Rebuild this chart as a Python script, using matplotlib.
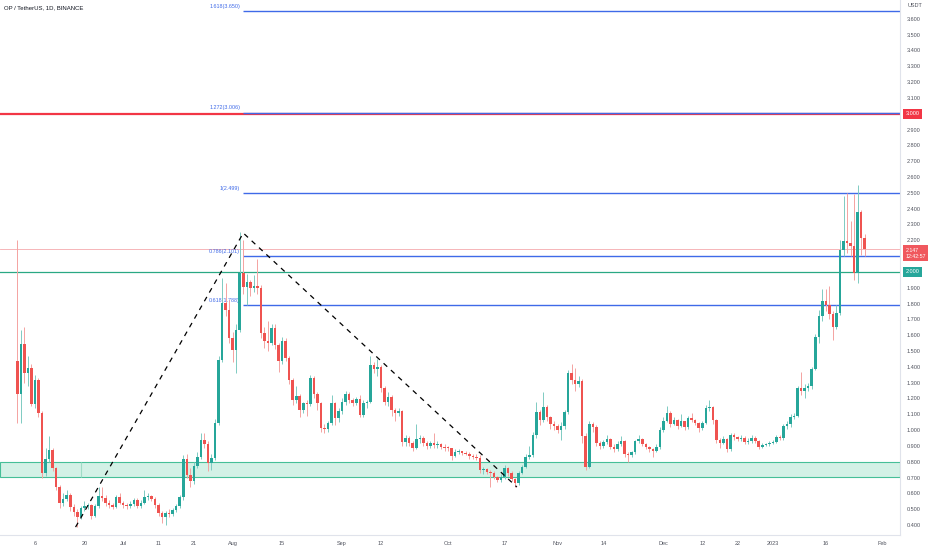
import numpy as np
import matplotlib.pyplot as plt
import matplotlib.dates as mdates
import matplotlib.transforms as mtransforms

plt.rcParams['font.family'] = ['Liberation Sans', 'DejaVu Sans']

# OP / USDT daily candles, 2022-06-01 .. 2023-01-27
dates = np.arange('2022-06-01', '2023-01-28', dtype='datetime64[D]')
first_open = 1.437
closes = [
    1.228, 1.544, 1.361, 1.392, 1.165, 1.317, 1.108, 0.729, 0.817, 0.874,
    0.760, 0.640, 0.539, 0.564, 0.590, 0.514, 0.482, 0.451, 0.507, 0.520,
    0.526, 0.457, 0.520, 0.583, 0.571, 0.539, 0.526, 0.514, 0.577, 0.539,
    0.526, 0.520, 0.533, 0.558, 0.520, 0.539, 0.577, 0.583, 0.564, 0.526,
    0.476, 0.451, 0.476, 0.470, 0.495, 0.520, 0.577, 0.817, 0.716, 0.678,
    0.773, 0.830, 0.937, 0.912, 0.792, 0.823, 1.045, 1.443, 1.803, 1.759,
    1.582, 1.506, 1.633, 1.993, 1.904, 1.936, 1.898, 1.911, 1.898, 1.614,
    1.563, 1.550, 1.645, 1.538, 1.437, 1.563, 1.456, 1.317, 1.190, 1.215,
    1.127, 1.171, 1.165, 1.329, 1.228, 1.171, 1.013, 1.007, 1.045, 1.171,
    1.076, 1.121, 1.177, 1.228, 1.190, 1.171, 1.196, 1.095, 1.171, 1.177,
    1.411, 1.386, 1.399, 1.266, 1.177, 1.209, 1.127, 1.108, 1.121, 0.925,
    0.950, 0.918, 0.887, 0.944, 0.950, 0.918, 0.899, 0.918, 0.906, 0.912,
    0.893, 0.890, 0.887, 0.836, 0.861, 0.868, 0.855, 0.849, 0.836, 0.830,
    0.826, 0.748, 0.752, 0.735, 0.729, 0.703, 0.684, 0.703, 0.760, 0.729,
    0.691, 0.665, 0.729, 0.767, 0.830, 0.842, 0.969, 1.114, 1.064, 1.146,
    1.083, 1.038, 1.026, 1.000, 1.026, 1.114, 1.361, 1.317, 1.291, 1.310,
    0.963, 0.767, 1.038, 1.019, 0.918, 0.899, 0.925, 0.944, 0.893, 0.880,
    0.912, 0.931, 0.849, 0.842, 0.861, 0.931, 0.944, 0.912, 0.893, 0.880,
    0.868, 0.893, 1.000, 1.057, 1.108, 1.038, 1.064, 1.026, 1.057, 1.019,
    1.076, 1.064, 1.045, 1.013, 1.045, 1.140, 1.146, 1.064, 0.937, 0.918,
    0.944, 0.880, 0.969, 0.956, 0.944, 0.950, 0.925, 0.931, 0.950, 0.931,
    0.893, 0.906, 0.912, 0.918, 0.925, 0.956, 0.950, 1.026, 1.038, 1.083,
    1.089, 1.266, 1.247, 1.266, 1.279, 1.386, 1.588, 1.721, 1.816, 1.791,
    1.734, 1.652, 1.740, 2.138, 2.195, 2.183, 2.164, 1.993, 2.379, 2.214,
    2.147,
]
highs = [
    2.20, 1.63, 1.65, 1.47, 1.42, 1.35, 1.33, 1.12, 0.89, 0.96,
    0.89, 0.77, 0.65, 0.60, 0.62, 0.60, 0.53, 0.50, 0.52, 0.55,
    0.54, 0.53, 0.53, 0.64, 0.64, 0.59, 0.56, 0.54, 0.59, 0.60,
    0.55, 0.54, 0.55, 0.57, 0.57, 0.56, 0.62, 0.60, 0.59, 0.58,
    0.54, 0.49, 0.49, 0.50, 0.51, 0.53, 0.59, 0.84, 0.85, 0.76,
    0.80, 0.86, 0.98, 0.98, 0.93, 0.85, 1.07, 1.47, 1.96, 1.93,
    1.82, 1.62, 1.67, 2.25, 2.20, 1.99, 1.95, 1.98, 2.08, 1.92,
    1.65, 1.69, 1.67, 1.67, 1.55, 1.59, 1.58, 1.47, 1.33, 1.28,
    1.23, 1.18, 1.19, 1.35, 1.34, 1.24, 1.18, 1.04, 1.06, 1.22,
    1.18, 1.14, 1.20, 1.25, 1.24, 1.20, 1.21, 1.22, 1.19, 1.19,
    1.47, 1.43, 1.45, 1.41, 1.28, 1.24, 1.22, 1.14, 1.14, 1.13,
    0.97, 0.96, 0.93, 1.04, 0.97, 0.96, 0.93, 0.93, 0.98, 0.93,
    0.92, 0.91, 0.90, 0.89, 0.88, 0.88, 0.87, 0.87, 0.86, 0.85,
    0.85, 0.84, 0.77, 0.76, 0.75, 0.74, 0.71, 0.72, 0.78, 0.77,
    0.74, 0.70, 0.74, 0.78, 0.85, 0.90, 0.99, 1.18, 1.13, 1.24,
    1.16, 1.09, 1.06, 1.04, 1.05, 1.13, 1.38, 1.42, 1.39, 1.34,
    1.32, 0.98, 1.06, 1.05, 1.03, 0.93, 0.94, 0.97, 0.95, 0.91,
    0.93, 0.96, 0.94, 0.86, 0.87, 0.94, 0.97, 0.95, 0.92, 0.90,
    0.89, 0.91, 1.02, 1.08, 1.15, 1.12, 1.08, 1.07, 1.10, 1.06,
    1.09, 1.11, 1.07, 1.05, 1.06, 1.16, 1.19, 1.15, 1.07, 0.95,
    0.96, 0.95, 0.98, 0.98, 0.96, 0.97, 0.96, 0.95, 0.97, 0.96,
    0.94, 0.92, 0.92, 0.93, 0.94, 0.97, 0.97, 1.04, 1.06, 1.10,
    1.11, 1.28, 1.37, 1.29, 1.30, 1.40, 1.61, 1.76, 1.89, 1.89,
    1.91, 1.75, 1.79, 2.20, 2.48, 2.50, 2.32, 2.49, 2.55, 2.39,
    2.24,
]
lows = [
    1.045, 1.045, 1.30, 1.28, 1.15, 1.14, 1.08, 0.70, 0.71, 0.80,
    0.74, 0.62, 0.51, 0.52, 0.55, 0.49, 0.46, 0.39, 0.44, 0.49,
    0.50, 0.44, 0.45, 0.51, 0.55, 0.52, 0.51, 0.50, 0.51, 0.53,
    0.51, 0.50, 0.51, 0.52, 0.51, 0.51, 0.53, 0.56, 0.55, 0.51,
    0.46, 0.41, 0.40, 0.45, 0.46, 0.48, 0.51, 0.56, 0.70, 0.64,
    0.66, 0.76, 0.82, 0.89, 0.74, 0.75, 0.81, 1.03, 1.43, 1.72,
    1.55, 1.43, 1.36, 1.62, 1.86, 1.79, 1.85, 1.87, 1.86, 1.58,
    1.52, 1.50, 1.54, 1.51, 1.37, 1.42, 1.44, 1.29, 1.16, 1.17,
    1.08, 1.11, 1.09, 1.15, 1.20, 1.13, 0.99, 0.98, 0.99, 1.03,
    1.03, 1.05, 1.10, 1.16, 1.17, 1.15, 1.16, 1.08, 1.08, 1.14,
    1.17, 1.36, 1.34, 1.24, 1.16, 1.15, 1.09, 1.06, 1.09, 0.90,
    0.90, 0.90, 0.87, 0.88, 0.92, 0.90, 0.88, 0.89, 0.89, 0.89,
    0.88, 0.87, 0.87, 0.81, 0.83, 0.85, 0.84, 0.84, 0.82, 0.82,
    0.81, 0.73, 0.72, 0.72, 0.64, 0.69, 0.67, 0.67, 0.69, 0.71,
    0.68, 0.64, 0.65, 0.72, 0.76, 0.82, 0.83, 0.95, 1.03, 1.05,
    1.06, 1.01, 1.00, 0.98, 0.94, 1.01, 1.10, 1.29, 1.25, 1.27,
    0.92, 0.75, 0.76, 0.99, 0.90, 0.88, 0.89, 0.91, 0.88, 0.86,
    0.87, 0.90, 0.83, 0.80, 0.83, 0.85, 0.92, 0.90, 0.88, 0.86,
    0.83, 0.86, 0.88, 0.99, 1.05, 1.02, 1.03, 1.01, 1.02, 1.00,
    1.01, 1.05, 1.03, 0.99, 1.00, 1.04, 1.12, 1.04, 0.92, 0.89,
    0.91, 0.86, 0.87, 0.94, 0.93, 0.93, 0.91, 0.91, 0.92, 0.92,
    0.88, 0.89, 0.90, 0.90, 0.91, 0.92, 0.94, 0.94, 1.01, 1.02,
    1.07, 1.08, 1.22, 1.20, 1.25, 1.26, 1.38, 1.55, 1.69, 1.75,
    1.70, 1.57, 1.64, 1.73, 2.10, 2.12, 2.10, 1.95, 1.93, 2.11,
    2.10,
]
opens = [first_open] + closes[:-1]

# fibonacci extension levels (ratio, price) and marked levels
fib_ratios = ['0.618', '0.786', '1', '1.272', '1.618']
fib_prices = [1.788, 2.101, 2.499, 3.006, 3.650]
fib_start = np.datetime64('2022-08-04')
resistance = 3.000
support = 2.000
zone_low, zone_high = 0.703, 0.800
last_price = 2.147
last_time = '12:42:57'

# dashed swing lines: low -> high -> low
swing_dates = np.array(['2022-06-17T12:00', '2022-08-04T00:00', '2022-10-20T12:00'],
                       dtype='datetime64[m]')
swing_prices = [0.387, 2.246, 0.640]

price_ticks = [0.4, 0.5, 0.6, 0.7, 0.8, 0.9, 1.0, 1.1, 1.2, 1.3, 1.4, 1.5, 1.6,
               1.7, 1.8, 1.9, 2.2, 2.3, 2.4, 2.5, 2.6, 2.7, 2.8, 2.9, 3.1, 3.2,
               3.3, 3.4, 3.5, 3.6]
date_ticks = np.array(['2022-06-06', '2022-06-20', '2022-07-01', '2022-07-11',
                       '2022-07-21', '2022-08-01', '2022-08-15', '2022-09-01',
                       '2022-09-12', '2022-10-01', '2022-10-17', '2022-11-01',
                       '2022-11-14', '2022-12-01', '2022-12-12', '2022-12-22',
                       '2023-01-01', '2023-01-16', '2023-02-01'], dtype='datetime64[D]')
date_labels = ['6', '20', 'Jul', '11', '21', 'Aug', '15', 'Sep', '12', 'Oct', '17',
               'Nov', '14', 'Dec', '12', '22', '2023', '16', 'Feb']

GREEN = '#26a69a'
RED = '#ef5350'
FIB = '#3f6ae8'
TXT = '#50535e'

fig = plt.figure(figsize=(9.32, 5.5), dpi=100)
ax = fig.add_axes([0, 15 / 550, 900 / 932, 535 / 550])

x = mdates.date2num(dates)
o = np.array(opens)
c = np.array(closes)
up = c >= o
cols = np.where(up, GREEN, RED)
wick_cols = np.where(up, '#7fcbc2', '#f4a3a1')

# zone and levels (behind candles)
ax.axhspan(zone_low, zone_high, fc='#d3f1e6', ec='#46bf98', lw=0.8, zorder=1)
ax.vlines(mdates.date2num(np.datetime64('2022-06-19')), zone_low, zone_high,
          color='#9fdcc6', lw=0.8, zorder=1)
ax.axhline(support, color='#2aa884', lw=0.9, zorder=1)
ax.axhline(resistance, color='#f23645', lw=1.6, zorder=1)
ax.axhline(last_price, color='#f5a9ad', lw=0.6, zorder=1)

xs = mdates.date2num(fib_start)
for r, p in zip(fib_ratios, fib_prices):
    ax.hlines(p, xs, x[-1] + 30, color=FIB, lw=1.0, zorder=2)
    ax.text(xs - 0.9, p + 0.015, f'{r}({p:.3f})', color=FIB, fontsize=3.9,
            ha='right', va='bottom', zorder=2)

# candles
ax.vlines(x, lows, highs, colors=wick_cols, lw=0.7, zorder=3)
ax.bar(x, np.maximum(np.abs(c - o), 0.006), bottom=np.minimum(o, c), width=0.72,
       color=cols, linewidth=0, zorder=4)

ax.plot(mdates.date2num(swing_dates), swing_prices, color='black', lw=0.9,
        ls=(0, (4, 4)), zorder=5)

ax.set_xlim(x[0] - 4.9, x[0] + 250)
ax.set_ylim(0.337, 3.719)

ax.set_xticks(mdates.date2num(date_ticks))
ax.set_xticklabels(date_labels)
ax.yaxis.tick_right()
ax.set_yticks(price_ticks)
ax.set_yticklabels([f'{v:.3f}' for v in price_ticks])
ax.tick_params(axis='both', length=0, labelsize=4, labelcolor=TXT)
ax.tick_params(axis='y', pad=5)
ax.tick_params(axis='x', pad=4)
for s in ['top', 'left']:
    ax.spines[s].set_visible(False)
for s in ['right', 'bottom']:
    ax.spines[s].set_color('#e0e3eb')
    ax.spines[s].set_linewidth(0.8)

# price axis boxes
tr = mtransforms.blended_transform_factory(ax.transAxes, ax.transData)
ax.text(1.006, resistance, f'{resistance:.3f}', transform=tr, fontsize=4,
        color='white', va='center', ha='left', clip_on=False, zorder=10,
        bbox=dict(boxstyle='square,pad=0.45', fc='#f23645', ec='none'))
ax.text(1.006, support, f'{support:.3f}', transform=tr, fontsize=4,
        color='white', va='center', ha='left', clip_on=False, zorder=10,
        bbox=dict(boxstyle='square,pad=0.45', fc='#26a69a', ec='none'))
ax.text(1.006, last_price - 0.03, f'{last_price:.3f}\n{last_time}', transform=tr,
        fontsize=3.8, color='white', va='center', ha='left', clip_on=False,
        zorder=10, linespacing=1.3,
        bbox=dict(boxstyle='square,pad=0.45', fc='#f0585e', ec='none'))
ax.text(1.008, 0.995, 'USDT', transform=ax.transAxes, fontsize=4, color=TXT,
        va='top', ha='left', clip_on=False)

ax.text(0.004, 0.99, 'OP / TetherUS, 1D, BINANCE', transform=ax.transAxes,
        fontsize=4.3, color='#131722', va='top', ha='left')

fig.savefig('out.png', dpi=100)
